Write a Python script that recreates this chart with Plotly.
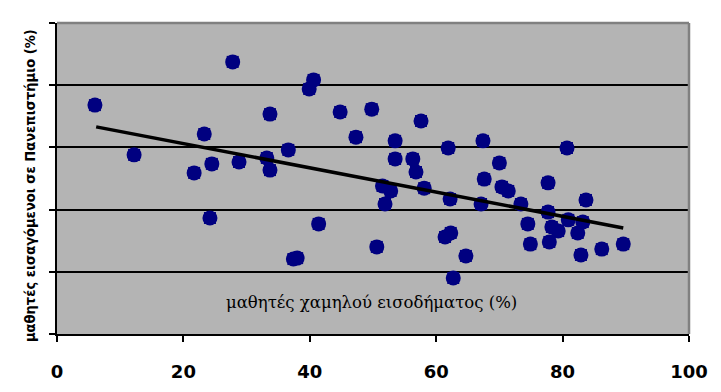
import plotly.graph_objects as go

# Data (percentages)
low_income = [6.0, 12.2, 21.7, 23.3, 24.2, 24.5, 27.8, 28.8, 33.2, 33.7, 33.7, 36.6,
              37.4, 38.0, 39.9, 40.6, 41.4, 44.8, 47.3, 49.8, 50.6, 51.5, 51.9, 52.8,
              53.5, 53.5, 56.3, 56.8, 57.6, 58.1, 61.4, 61.9, 62.3, 62.2, 62.7, 64.7,
              67.4, 67.6, 67.1, 70.0, 70.4, 71.4, 73.4, 74.5, 74.9, 77.7, 77.7, 77.9,
              78.3, 79.3, 80.7, 80.9, 82.4, 82.9, 83.2, 83.7, 86.2, 89.6]
university = [73.6, 57.6, 51.8, 64.3, 37.3, 54.7, 87.5, 55.3, 56.6, 70.7, 52.7, 59.2,
              24.1, 24.4, 78.8, 81.7, 35.4, 71.4, 63.3, 72.3, 28.0, 47.6, 41.8, 46.0,
              62.1, 56.3, 56.3, 52.1, 68.5, 46.9, 31.2, 59.8, 32.5, 43.4, 18.0, 25.1,
              62.1, 49.8, 41.8, 55.0, 47.3, 46.0, 41.8, 35.4, 28.9, 48.6, 39.2, 29.6,
              34.4, 33.1, 59.8, 36.7, 32.5, 25.4, 36.0, 43.1, 27.3, 28.9]

trend_x = [6.2, 89.6]
trend_y = [66.6, 34.1]

x_ticks = [0, 20, 40, 60, 80, 100]
y_ticks = [0, 20, 40, 60, 80, 100]

navy = "#000080"

fig = go.Figure()
fig.add_trace(go.Scatter(x=low_income, y=university, mode="markers",
                         marker=dict(symbol="square", size=12, color=navy,
                                     line=dict(width=0)),
                         hoverinfo="skip", showlegend=False))
fig.add_trace(go.Scatter(x=low_income, y=university, mode="markers",
                         marker=dict(symbol="circle", size=15, color=navy,
                                     line=dict(width=0)),
                         showlegend=False))
fig.add_trace(go.Scatter(x=trend_x, y=trend_y, mode="lines",
                         line=dict(color="black", width=3.5), showlegend=False))

fig.update_layout(
    width=705, height=376,
    margin=dict(l=49, r=24, t=15, b=50),
    paper_bgcolor="white",
    plot_bgcolor="#b4b4b4",
    xaxis=dict(range=[0, 100], tickvals=x_ticks, showgrid=False, zeroline=False,
               automargin=False,
               showline=True, linecolor="black", linewidth=2,
               ticks="outside", ticklen=6, tickwidth=2, tickcolor="black",
               ticklabelstandoff=14,
               tickfont=dict(family="DejaVu Sans", size=18, color="black", weight="bold")),
    yaxis=dict(range=[0, 100], tickvals=y_ticks, showgrid=True, gridcolor="black",
               automargin=False,
               gridwidth=1.5, zeroline=False, showticklabels=False,
               showline=True, linecolor="black", linewidth=2,
               ticks="outside", ticklen=6, tickwidth=2, tickcolor="black"),
    annotations=[
        dict(text="μαθητές εισαγόμενοι σε Πανεπιστήμιο (%)", textangle=-90,
             xref="paper", yref="paper", x=-0.0427, y=0.476, showarrow=False,
             xanchor="center", yanchor="middle",
             font=dict(family="DejaVu Sans Condensed", size=14.5, color="black",
                       weight="bold")),
        dict(text="μαθητές χαμηλού εισοδήματος (%)",
             xref="x", yref="y", x=49.7, y=10.0, showarrow=False,
             xanchor="center", yanchor="middle",
             font=dict(family="DejaVu Serif", size=16.5, color="black")),
    ],
    shapes=[
        dict(type="line", xref="paper", yref="paper", x0=0, x1=1, y0=1, y1=1,
             line=dict(color="#808080", width=2.5), layer="above"),
        dict(type="line", xref="paper", yref="paper", x0=1, x1=1, y0=0, y1=1,
             line=dict(color="#808080", width=2.5), layer="above"),
    ],
)

fig.write_html("out.html")
